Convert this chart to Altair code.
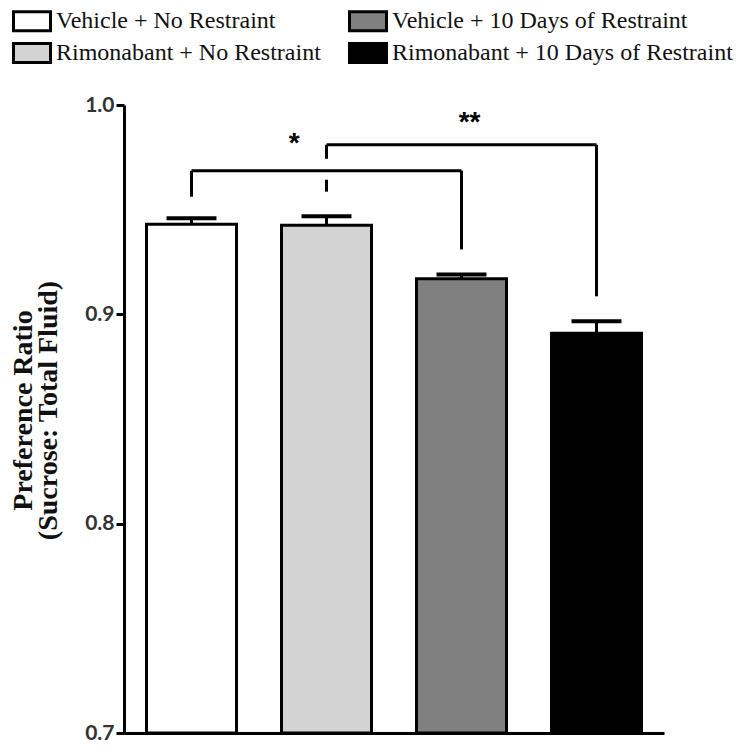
import altair as alt
import pandas as pd

groups = ["Vehicle + No Restraint", "Rimonabant + No Restraint",
          "Vehicle + 10 Days of Restraint", "Rimonabant + 10 Days of Restraint"]
means = [0.943, 0.9425, 0.917, 0.891]
sems = [0.0029, 0.0043, 0.0020, 0.0057]
fills = ["#ffffff", "#d3d3d3", "#808080", "#000000"]

# significance brackets: (x1 group idx, x2 group idx, y1, y2)
bracket_x1 = [0, 0, 2, 1, 1, 1, 3]
bracket_x2 = [0, 2, 2, 1, 1, 3, 3]
bracket_y1 = [0.9562, 0.9686, 0.9310, 0.9586, 0.9743, 0.9810, 0.9086]
bracket_y2 = [0.9686, 0.9686, 0.9686, 0.9643, 0.9810, 0.9810, 0.9810]

star_labels = ["*", "**"]
star_x = [0.76, 2.06]
star_y = [0.9814, 0.9914]

half_bar = 1 / 3
half_cap = 0.185

bars = pd.DataFrame({
    "group": groups,
    "idx": list(range(len(groups))),
    "mean": means,
    "top": [m + s for m, s in zip(means, sems)],
})
bars["left"] = bars["idx"] - half_bar
bars["right"] = bars["idx"] + half_bar
bars["capl"] = bars["idx"] - half_cap
bars["capr"] = bars["idx"] + half_cap

brk = pd.DataFrame({"x1": bracket_x1, "x2": bracket_x2, "y1": bracket_y1, "y2": bracket_y2})
stars = pd.DataFrame({"label": star_labels, "x": star_x, "y": star_y})

xscale = alt.Scale(domain=[-0.5, 3.5], nice=False, zero=False)
yscale = alt.Scale(domain=[0.7, 1.0], nice=False, zero=False)

xaxis = alt.Axis(labels=False, ticks=False, grid=False, title=None,
                 domainColor="black", domainWidth=3)
yaxis = alt.Axis(values=[0.7, 0.8, 0.9, 1.0], format=".1f", grid=False,
                 domainColor="black", domainWidth=3, tickColor="black", tickWidth=3,
                 tickSize=8, labelFont="Lato", labelFontWeight="bold", labelFontSize=21,
                 labelColor="#333333", labelPadding=2,
                 title=["Preference Ratio", "(Sucrose: Total Fluid)"],
                 titleFont="Liberation Serif", titleFontWeight="bold", titleFontSize=28,
                 titleLineHeight=25, titleColor="#111111", titleAngle=270,
                 titleX=-101, titleY=305, titleAlign="center", titleBaseline="middle")

base = alt.Chart(bars)

bar_layer = base.mark_bar(stroke="black", strokeWidth=3, opacity=1).encode(
    x=alt.X("left:Q", scale=xscale, axis=xaxis),
    x2="right:Q",
    y=alt.Y("mean:Q", scale=yscale, axis=yaxis),
    y2=alt.datum(0.7),
    fill=alt.Fill("group:N",
                  scale=alt.Scale(domain=groups, range=fills),
                  legend=alt.Legend(
                      title=None, orient="none", legendX=-104, legendY=-96,
                      columns=2, columnPadding=22, rowPadding=0, padding=0,
                      symbolType="M-1.85,-0.95L1.85,-0.95L1.85,0.95L-1.85,0.95Z",
                      symbolSize=400, symbolStrokeColor="black", symbolStrokeWidth=3,
                      symbolOpacity=1, labelFont="Liberation Serif", labelFontSize=24,
                      labelColor="#111111", labelOffset=12, labelLimit=400)),
)

err_layer = base.mark_rule(color="black", strokeWidth=3).encode(
    x="idx:Q", y="mean:Q", y2="top:Q")

cap_layer = base.mark_rule(color="black", strokeWidth=4).encode(
    x="capl:Q", x2="capr:Q", y="top:Q")

brk_layer = alt.Chart(brk).mark_rule(color="black", strokeWidth=3).encode(
    x="x1:Q", x2="x2:Q", y="y1:Q", y2="y2:Q")

star_layer = alt.Chart(stars).mark_text(
    font="Liberation Sans", fontWeight="bold", fontSize=28, color="black",
    baseline="middle", align="center").encode(
    x="x:Q", y="y:Q", text="label:N")

chart = alt.layer(bar_layer, err_layer, cap_layer, brk_layer, star_layer).properties(
    width=540, height=628,
    padding={"left": 116, "top": 97, "right": 78, "bottom": 9},
    autosize=alt.AutoSizeParams(type="none"),
    background="white",
).configure_view(strokeWidth=0)

chart.save("out.html", embed_options={"renderer": "svg", "actions": False})
